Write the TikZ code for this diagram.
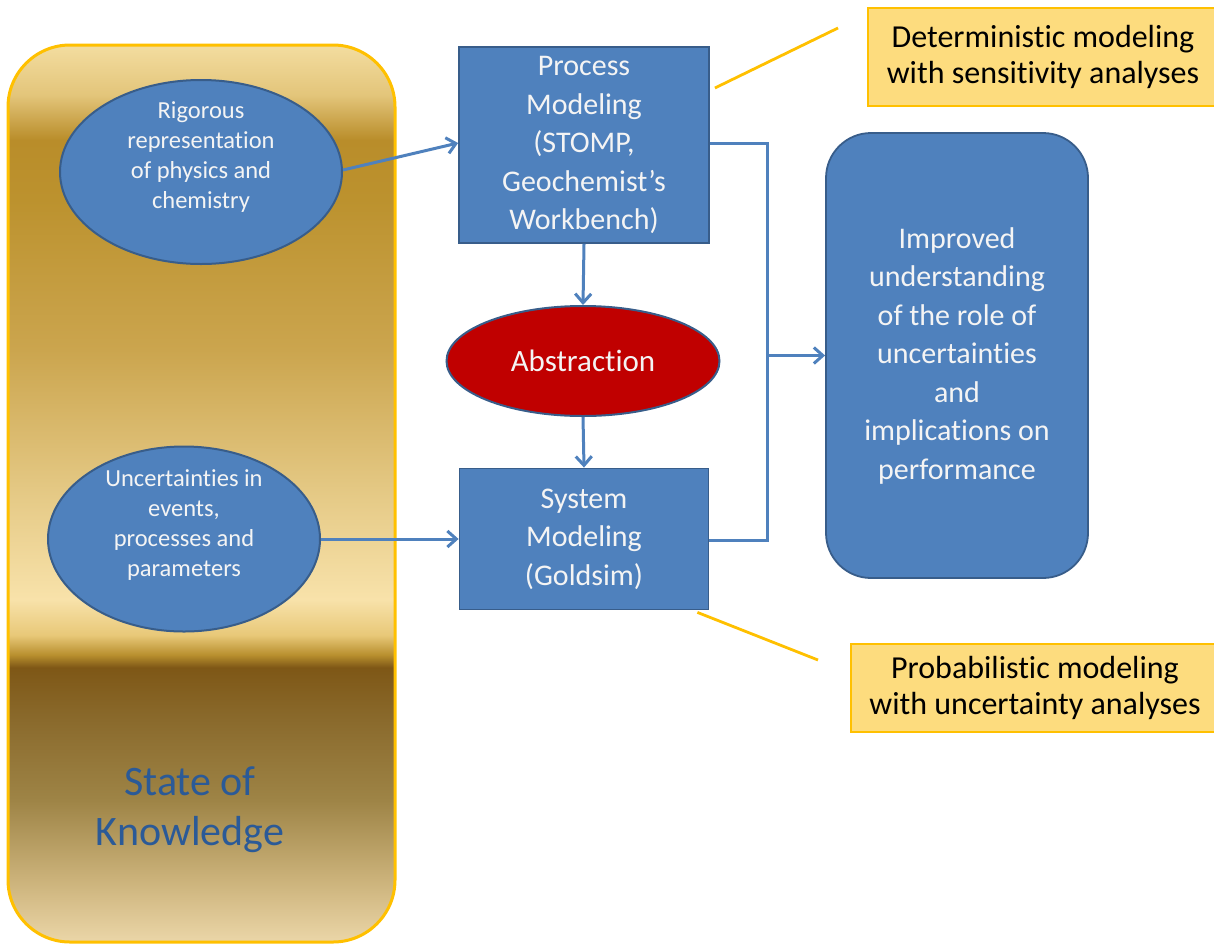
\documentclass[tikz,border=0pt]{standalone}
\usepackage{fontspec}
\setmainfont{Carlito}[Ligatures=NoCommon]
\usetikzlibrary{shapes.geometric,arrows.meta}
\definecolor{blu}{HTML}{4F81BD}
\definecolor{bluedge}{HTML}{385D8A}
\definecolor{redf}{HTML}{C00000}
\definecolor{goldedge}{HTML}{FFC000}
\definecolor{callfill}{HTML}{FDDC7E}
\definecolor{soktext}{HTML}{2B5A97}
\definecolor{txtw}{HTML}{F4F4F4}
\definecolor{g0}{HTML}{EBD6A8}
\definecolor{g1}{HTML}{CBB27A}
\definecolor{g2}{HTML}{9E8446}
\definecolor{g3}{HTML}{8A6A2C}
\definecolor{g4}{HTML}{7E5716}
\definecolor{g5}{HTML}{B88F2E}
\definecolor{g6}{HTML}{E8C878}
\definecolor{g7}{HTML}{F8E2AA}
\definecolor{g8}{HTML}{E6CB88}
\definecolor{g9}{HTML}{CBA54E}
\definecolor{g10}{HTML}{BC922E}
\definecolor{g11}{HTML}{B98D2A}
\definecolor{g12}{HTML}{E3C57A}
\definecolor{g13}{HTML}{F3DDA0}
\pgfdeclareverticalshading{goldshade}{100bp}{color(0bp)=(g0); color(25bp)=(g0); color(28.5bp)=(g1); color(32.9bp)=(g2); color(37.4bp)=(g3); color(40.3bp)=(g4); color(41bp)=(g5); color(42.1bp)=(g6); color(44.1bp)=(g7); color(49.6bp)=(g8); color(58bp)=(g9); color(66.4bp)=(g10); color(69.7bp)=(g11); color(72.2bp)=(g12); color(75bp)=(g13); color(100bp)=(g13)}
\tikzset{
  blubox/.style={draw=bluedge, line width=1.8pt, fill=blu, text=txtw, align=center, inner sep=0pt},
  bluell/.style={ellipse, draw=bluedge, line width=2pt, fill=blu, inner sep=0pt},
  elltext/.style={text=txtw, align=center, font=\fontsize{24.5}{30}\selectfont},
  boxtext/.style={font=\fontsize{30}{38.5}\selectfont},
  callout/.style={draw=goldedge, line width=2pt, fill=callfill, align=center, inner sep=0pt, font=\fontsize{32}{36}\selectfont},
  conn/.style={draw=blu, line width=3pt},
  arr/.style={conn, -{Straight Barb[length=9pt,width=16pt,line width=3pt]}},
  goldline/.style={draw=goldedge, line width=2.8pt}
}
\begin{document}
\begin{tikzpicture}[x=1pt,y=-1pt]
\useasboundingbox (0,0) rectangle (1214,945);
% State of knowledge panel
\shade[shading=goldshade, rounded corners=62pt] (8,45) rectangle (395,942);
\draw[draw=goldedge, line width=3pt, rounded corners=62pt] (8,45) rectangle (395,942);
\node[text=soktext, align=center, font=\fontsize{42}{50}\selectfont] (sok) at (190,810) {State of\\Knowledge};
% ellipses
\node[bluell, minimum width=282pt, minimum height=184pt] (e1) at (201,172) {};
\node[elltext] (e1t) at (201,157) {Rigorous\\representation\\of physics and\\chemistry};
\node[bluell, minimum width=272pt, minimum height=185pt] (e2) at (184,539) {};
\node[elltext] (e2t) at (184,525) {Uncertainties in\\events,\\processes and\\parameters};
% boxes
\node[blubox, boxtext, minimum width=250pt, minimum height=196pt] (pm) at (584,145) {Process\\Modeling\\(STOMP,\\Geochemist’s\\Workbench)};
\node[ellipse, draw=bluedge, line width=2pt, fill=redf, text=txtw, inner sep=0pt, minimum width=273pt, minimum height=110pt, font=\fontsize{31}{38}\selectfont] (ab) at (583,361) {Abstraction};
\node[blubox, boxtext, minimum width=249pt, minimum height=141pt] (sm) at (584,539) {System\\Modeling\\(Goldsim)};
\node[blubox, boxtext, rounded corners=45pt, minimum width=262pt, minimum height=445pt] (iu) at (957,355.5) {Improved\\understanding\\of the role of\\uncertainties\\and\\implications on\\performance};
% callouts
\node[callout, minimum width=350pt, minimum height=98pt] (c1) at (1043,57) {Deterministic modeling\\with sensitivity analyses};
\node[callout, minimum width=368pt, minimum height=88pt] (c2) at (1035,688) {Probabilistic modeling\\with uncertainty analyses};
\coordinate (c1e) at (838,28);
\coordinate (c2e) at (818,660);
\draw[goldline] (pm.east |- 0,88) ++(5,0) -- (c1e);
\draw[goldline] (sm.south east) ++(-12,2) -- (c2e);
% connectors
\draw[arr] (e1.east) ++(0,-2) -- (pm.west |- 0,143);
\draw[arr] (e2.east) -- (sm.west);
\draw[arr] (pm.south) -- (ab.north);
\draw[arr] (ab.south) -- (sm.north);
\coordinate (j1) at (767,143);
\coordinate (j2) at (767,540);
\coordinate (jm) at (767,355.5);
\draw[conn] (pm.east |- j1) -- (j1) -- (j2) -- (sm.east |- j2);
\draw[arr] (jm) -- (iu.west);
\end{tikzpicture}
\end{document}
